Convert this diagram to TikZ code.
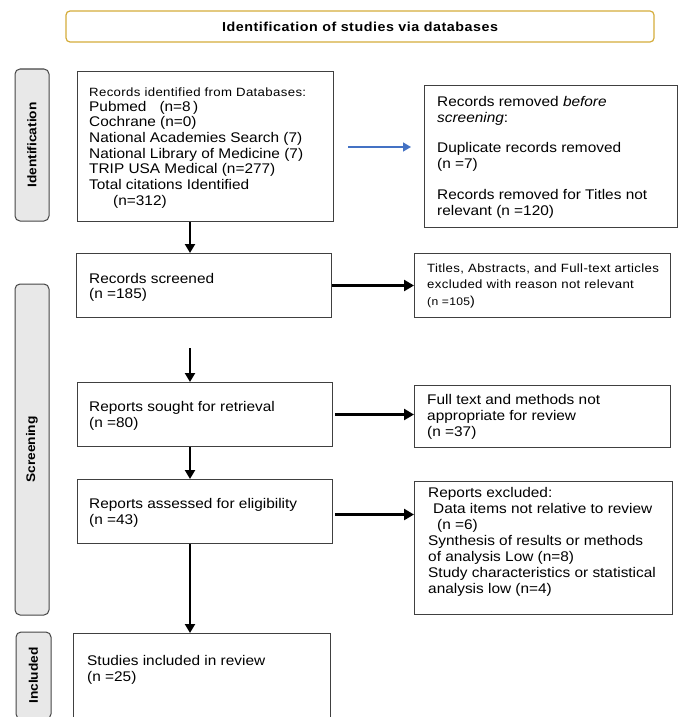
\documentclass[tikz,border=0pt]{standalone}
\usepackage{fontspec}
\setmainfont{Liberation Sans}[FakeStretch=1.1]
\newfontfamily\smallfam{Liberation Sans}[FakeStretch=1.1,LetterSpace=3]
\newfontfamily\titlefam{Liberation Sans}[FakeStretch=1.1,LetterSpace=4]
\usetikzlibrary{arrows.meta,calc}
\definecolor{boxline}{HTML}{404040}
\definecolor{labline}{HTML}{454545}
\definecolor{labfill}{HTML}{E8E8E8}
\definecolor{titleline}{HTML}{D4AC3A}
\definecolor{arrowblue}{HTML}{4472C4}
\newcommand\txtline[4][]{\node[txt,#1] (#2) at #3 {#4};}
\begin{document}
\begin{tikzpicture}[x=1pt,y=-1pt,
  box/.style={draw=boxline,line width=1pt,inner sep=0pt,anchor=north west},
  lab/.style={draw=labline,fill=labfill,line width=1pt,rounded corners=5pt,inner sep=0pt,rotate=90,font=\fontsize{12.5}{14}\selectfont\bfseries},
  titlebox/.style={draw=titleline,line width=1.2pt,rounded corners=4pt,inner sep=0pt,font=\titlefam\fontsize{13}{15}\selectfont\bfseries},
  txt/.style={anchor=base west,inner sep=0pt,font=\fontsize{14}{16}\selectfont},
  smalltxt/.style={font=\smallfam\fontsize{12}{14}\selectfont},
  varr/.style={line width=2.5pt,-{Triangle[length=9pt,width=10pt]}},
  harr/.style={line width=3.5pt,-{Triangle[length=10pt,width=11pt]}},
  barr/.style={draw=arrowblue,line width=1.5pt,-{Triangle[length=8pt,width=9pt]}}]
\useasboundingbox (0,0) rectangle (688,717);
\clip (0,0) rectangle (688,717);
% title
\node[titlebox,minimum width=588pt,minimum height=31pt] (T) at (360,26.5) {Identification of studies via databases};
% side labels
\node[lab,minimum width=152pt,minimum height=34pt] (L1) at (32,145) {Identification};
\node[lab,minimum width=331pt,minimum height=34pt] (L2) at (32,449.5) {Screening};
\node[lab,minimum width=87pt,minimum height=35pt] (L3) at (33.5,675.5) {Included};
% boxes
\node[box,minimum width=256pt,minimum height=150pt] (A) at (77,71) {};
\node[box,minimum width=253pt,minimum height=142pt] (B) at (424,85) {};
\node[box,minimum width=255pt,minimum height=64pt] (C) at (76,253) {};
\node[box,minimum width=256pt,minimum height=64pt] (D) at (414,253) {};
\node[box,minimum width=255pt,minimum height=64pt] (E) at (77,382) {};
\node[box,minimum width=256pt,minimum height=62pt] (F) at (414,385) {};
\node[box,minimum width=255pt,minimum height=64pt] (G) at (77,479) {};
\node[box,minimum width=258pt,minimum height=133pt] (H) at (414,481) {};
\node[box,minimum width=257pt,minimum height=100pt] (I) at (73,633) {};
% texts
\txtline[smalltxt]{a1}{(89,96)}{Records identified from Databases:}
\txtline{a2}{(89,111)}{Pubmed\hspace{13pt}(n=8\,)}
\txtline{a3}{(89,126.5)}{Cochrane (n=0)}
\txtline{a4}{(89,142)}{National Academies Search (7)}
\txtline{a5}{(89,158)}{National Library of Medicine (7)}
\txtline{a6}{(89,173.5)}{TRIP USA Medical (n=277)}
\txtline{a7}{(89,189)}{Total citations Identified}
\txtline{a8}{(113,205)}{(n=312)}
\txtline{b1}{(437,106)}{Records removed \textit{before}}
\txtline{b2}{(437,122)}{\textit{screening}:}
\txtline{b3}{(437,152)}{Duplicate records removed}
\txtline{b4}{(437,168)}{(n =7)}
\txtline{b5}{(437,199)}{Records removed for Titles not}
\txtline{b6}{(437,215)}{relevant (n =120)}
\txtline{c1}{(89,283)}{Records screened}
\txtline{c2}{(89,298.5)}{(n =185)}
\txtline[smalltxt]{d1}{(427,272)}{Titles, Abstracts, and Full-text articles}
\txtline[smalltxt]{d2}{(427,288)}{excluded with reason not relevant}
\txtline[smalltxt]{d3}{(427,305)}{{\fontsize{11}{13}\selectfont(n =105}{\fontsize{13}{15}\selectfont)}}
\txtline{e1}{(89,411)}{Reports sought for retrieval}
\txtline{e2}{(89,427)}{(n =80)}
\txtline{f1}{(427,404)}{Full text and methods not}
\txtline{f2}{(427,420)}{appropriate for review}
\txtline{f3}{(427,436)}{(n =37)}
\txtline{g1}{(89,508)}{Reports assessed for eligibility}
\txtline{g2}{(89,524)}{(n =43)}
\txtline{h1}{(428,497)}{Reports excluded:}
\txtline{h2}{(433,513)}{Data items not relative to review}
\txtline{h3}{(437,529)}{(n =6)}
\txtline{h4}{(428,545)}{Synthesis of results or methods}
\txtline{h5}{(428,561)}{of analysis Low (n=8)}
\txtline{h6}{(428,577)}{Study characteristics or statistical}
\txtline{h7}{(428,593)}{analysis low (n=4)}
\txtline{i1}{(87,665)}{Studies included in review}
\txtline{i2}{(87,681)}{(n =25)}
% connectors
\coordinate (col) at (190,0);
\coordinate (free) at (190,348);
\coordinate (bstart) at (348,147);
\draw[barr,shorten >=13pt] (bstart) -- (bstart -| B.west);
\draw[varr] (A.south -| col) -- (C.north -| col);
\draw[harr] (C.east) -- (D.west);
\draw[varr] (free) -- (E.north -| col);
\draw[harr,shorten <=2pt] (E.east) -- (E.east -| F.west);
\draw[varr] (E.south -| col) -- (G.north -| col);
\draw[harr,shorten <=2pt] ([yshift=-3pt]G.east) -- ([yshift=-3pt]G.east -| H.west);
\draw[varr] (G.south -| col) -- (I.north -| col);
\end{tikzpicture}
\end{document}
